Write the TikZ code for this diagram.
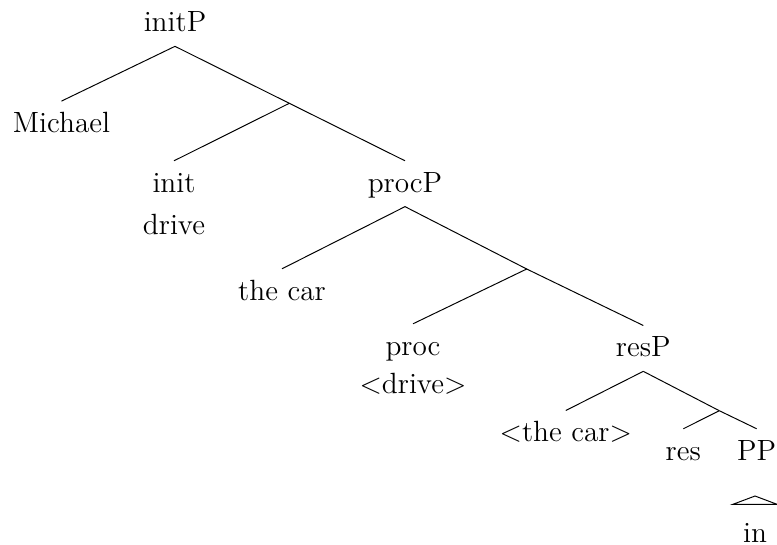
\documentclass[tikz,border=0pt,12pt]{standalone}
\usepackage{tikz}
\usetikzlibrary{positioning}

\begin{document}
\begin{tikzpicture}[x=0.41pt,y=-0.41pt,
    cat/.style={anchor=base,inner xsep=0pt,inner ysep=5pt,text height=7.6pt,text depth=0.8pt},
    leaf/.style={anchor=base,inner sep=0pt},
    roofed/.style={anchor=base,inner sep=0pt,text height=15.2pt,text depth=0pt,minimum width=18pt}]
  \useasboundingbox (0,0) rectangle (777,544);
  % initP
  \node[cat] (initP) at (175,31.7) {initP};
  \node[cat] (michael) at (61.5,132.3) {Michael};
  \coordinate (initbar) at (289.3,103.3);
  \node[cat] (init) at (174,192) {init};
  \node[leaf] (initverb) at (174,234) {drive};
  % procP
  \node[cat] (procP) at (405,192) {procP};
  \node[cat] (thecar) at (282,300) {the car};
  \coordinate (procbar) at (526.7,269);
  \node[cat] (proc) at (413,355) {proc};
  \node[leaf] (procverb) at (413,393) {$<$drive$>$};
  % resP
  \node[cat] (resP) at (643.3,356.7) {resP};
  \node[cat] (thecarcopy) at (565.8,441.7) {$<$the car$>$};
  \coordinate (resbar) at (719.3,410.7);
  \node[cat] (res) at (683.3,460) {res};
  \node[cat] (PP) at (756.7,460) {PP};
  \coordinate (roof) at (755,496);
  \node[roofed] (in) at (755,542) {in};

  \draw (initP.south) -- (michael.north);
  \draw (initP.south) -- (initbar);
  \draw (initbar) -- (init.north);
  \draw (initbar) -- (procP.north);
  \draw (procP.south) -- (thecar.north);
  \draw (procP.south) -- (procbar);
  \draw (procbar) -- (proc.north);
  \draw (procbar) -- (resP.north);
  \draw (resP.south) -- (thecarcopy.north);
  \draw (resP.south) -- (resbar);
  \draw (resbar) -- (res.north);
  \draw (resbar) -- (PP.north);
  \draw (roof) -- (in.north west) -- (in.north east) -- cycle;
\end{tikzpicture}
\end{document}
